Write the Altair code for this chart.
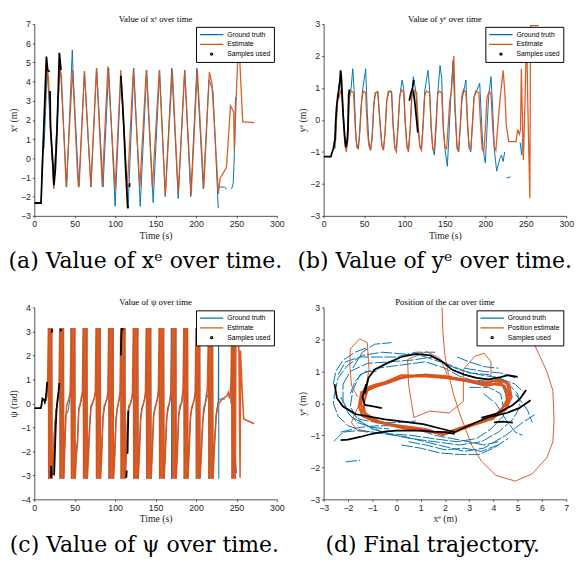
import altair as alt
import pandas as pd

BLUE = "#0072BD"
ORANGE = "#D95319"
BLACK = "#000000"
W, H = 249, 197

# ---------------- (a) x^e over time ----------------
EST_X = [(9, -1.0), (12, 1.5), (15.7, 4.7), (17.5, 4.2), (24, -1.6), (31.7, 4.7), (33.5, 4.3),
         (39.4, -1.5), (47.4, 4.6), (53.5, -0.9), (54.5, -1.5), (55.5, -1.4), (62, 4.55), (70, -1.45),
         (77, 4.7), (84, -1.45), (91, 4.8), (100, -1.6), (107, 4.6), (115, -1.6), (122.5, 4.6),
         (130.5, -1.5), (138.5, 4.6), (146, -1.55), (154.6, 4.6), (162, -1.95), (170.7, 4.6),
         (178, -1.85), (186, 4.6), (194, -1.9), (201.6, 4.6), (209.6, -1.55), (216.5, 4.5),
         (219.7, 3.9), (227.7, -1.85), (229.7, -1.05), (237.7, -0.47), (242.6, 2.74), (246.6, 2.4),
         (247.4, 0.4), (251.8, 5.5), (253.5, 5.6), (257.8, 1.9), (272, 1.86)]
GT_X = [
    [(12, 0.5), (16, 4.6), (24, -1.5), (32, 5.0), (40, -1.5), (47, 5.65), (48, 4.4), (55, -1.5),
     (62, 4.5), (70, -1.5), (77, 4.7), (85, -1.5), (92, 4.7), (100, -2.5), (107, 4.3), (116, -2.6),
     (123, 4.7), (131, -2.5), (139, 4.6), (147, -2.3), (155, 4.6), (162, -2.0), (170, 4.7),
     (178, -2.1), (186, 4.6), (193.5, -2.0), (201, 4.7), (209, -1.6), (216, 4.1), (221, 3.5),
     (227.5, -2.6)],
    [(228.5, -1.5), (235, -1.5), (238, -1.6)],
    [(244, -1.6), (246, -1.3), (247.5, 0.3), (248.5, 2.7), (249, 3.2)],
]
SMP_X = [
    [(0, -2.33), (8.3, -2.33), (15, 5.3), (16.5, 4.6), (19, 4.5)],
    [(19.5, 3.5), (20, 1.6), (23, -0.3), (24.3, -1.4), (26, -0.6), (28, 1.3), (31, 5.5), (33, 4.6)],
    [(107, 4.3), (109, 3.0), (111, 1.4), (113, -0.6), (115.5, -2.6), (116.5, -2.5)],
    [(117.5, -1.5), (118, -1.3)],
]

# ---------------- (b) y^e over time ----------------
EST_Y = [(13, -0.9), (15, -0.6), (17, 0.75), (19, 0.7), (21, 0.9), (23, 0.8), (26, -0.7), (28, -1.0),
         (30, -0.6), (32, 0.8), (34, 0.9), (37, 0.85), (39, -0.2), (41, -0.85), (43, -0.9), (45, -0.3),
         (47, 0.6), (49, 0.9), (52, 0.85), (54, -0.3), (56, -0.8), (58, -0.95), (60, -0.5), (62, 0.5),
         (64, 0.85), (67, 0.85), (69, 0.2), (72, -0.8), (74, -0.95), (76, -0.4), (78, 0.6), (80, 0.9),
         (84, 0.85), (86, -0.2), (88, -0.9), (90, -1.0), (92, -0.2), (94, 0.7), (96, 0.95), (99, 0.85),
         (101, -0.1), (103, -0.85), (105, -1.0), (107, -0.3), (109, 0.7), (111, 0.95), (115, 0.85),
         (117, -0.2), (119, -0.85), (121, -0.95), (123, -0.2), (125, 0.75), (127, 0.9), (131, 0.85),
         (133, -0.2), (135, -0.9), (137, -0.95), (139, -0.1), (141, 0.8), (143, 0.9), (146, 0.85),
         (148, -0.3), (150, -0.85), (152, -0.9), (154, -0.2), (156, 0.6), (158, 0.9), (161, 2.0),
         (162.5, 0.5), (165, -0.85), (167, -0.95), (169, -0.2), (171, 0.75), (173, 0.95), (176, 0.85),
         (178, -0.1), (180, -0.85), (182, -0.9), (184, -0.2), (186, 0.7), (188, 0.9), (192, 0.85),
         (194, -0.1), (196, -0.9), (198, -1.0), (200, -0.3), (202, 0.7), (205, 0.9), (207, 0.8),
         (209, -0.2), (211, -0.85), (213, -0.95), (215, -0.3), (218, 0.6), (222, 1.55), (224, 0.9),
         (226, -0.2), (229, -0.68), (238, -0.68), (240, -0.3), (242, -0.45), (243.5, -0.3),
         (244.5, 1.6), (247, -1.25), (249, 0.5), (251, 2.9), (252.5, 0.5), (255, -2.45), (256, 2.95),
         (266, 2.95)]
GT_Y = [
    [(14, -0.9), (17, 0.5), (19, 1.1), (21, 1.2), (24, 0.3), (27, -0.9), (29, -0.8), (31, 0.5),
     (34, 1.0), (36, 1.6), (38, 0.8), (40, -0.6), (42, -0.9), (44, -0.6), (46, 0.3), (48, 0.9),
     (52, 1.6), (54, 0.2), (56, -0.7), (58, -0.95), (60, -0.6), (62, 0.4), (64, 0.85), (67, 0.9),
     (69, 0.1), (72, -0.8), (74, -0.9), (76, -0.4), (78, 0.6), (81, 0.9), (84, 0.9), (86, -0.2),
     (88, -0.8), (90, -0.9), (92, -0.2), (94, 0.7), (97, 1.25), (99, 1.0), (101, -0.1), (103, -0.8),
     (105, -0.9), (107, -0.3), (109, 0.8), (111, 1.35), (114, 0.9), (117, -0.3), (119, -0.8),
     (121, -0.9), (123, -0.1), (125, 0.9), (129, 1.55), (131, 1.0), (133, -0.3), (135, -0.9),
     (137, -1.1), (139, -0.3), (141, 0.8), (144, 1.7), (146, 1.3), (148, -0.2), (150, -0.9),
     (153, -1.45), (155, -0.5), (157, 0.6), (160, 1.85), (162, 0.5), (165, -0.9), (167, -1.0),
     (169, -0.2), (171, 0.6), (174, 1.0), (176, 1.25), (178, -0.2), (180, -0.9), (182, -1.0),
     (184, -0.1), (186, 0.7), (189, 0.9), (193, 1.15), (195, 0.1), (197, -0.9), (200, -1.35),
     (202, -0.3), (204, 0.7), (207, 1.35), (209, 0.4), (211, -0.9), (214, -1.6), (216, -1.4),
     (218, -1.2), (220, -1.1), (222, -1.3), (224, -1.0)],
    [(226.5, -1.82), (231, -1.78)],
    [(243, -0.7), (244, -0.9), (245, -1.1), (246, -0.6)],
]
SMP_Y = [
    [(0, -1.15), (9, -1.15), (10, -1.05), (12, -0.9), (14, -0.6), (15, 0.0), (16, 0.4), (18, 0.8),
     (20, 1.2), (21, 1.55), (22, 1.3), (24, 0.2), (26, -0.5), (27.5, -0.85), (29, -0.7), (30, -0.3),
     (31, 0.8), (32, 0.95)],
    [(106, 0.6), (108, 0.85), (110, 1.0), (111.5, 1.25)],
    [(111, 0.9), (113, 0.5), (115, 0.0), (116.5, -0.4)],
]

# ---------------- (c) psi over time ----------------
EST_PSI = [
    (14.0, 0.1), (15.5, 0.4), (16.5, 0.9),
    (17.5, 3.14), (17.9, -3.14), (18.4, 3.14), (18.9, -3.14), (19.4, 3.14), (19.9, -3.14), (20.4, 3.14), (20.9, -3.14), (21.5, 3.14), (22, -3.14),
    (23.5, -2.4), (25, -1.2), (27, -0.3), (29, 0.1), (30.5, 0.4),
    (31.5, 3.14), (32, -3.14), (32.5, 3.14), (33, -3.14), (33.6, 3.14), (34.2, -3.14), (34.8, 3.14), (35.4, -3.14), (36, 3.14), (36.5, -3.14),
    (37.5, -2.0), (39, -0.6), (40, -0.1), (42, 0.1), (43.5, 0.3), (44.5, 0.6),
    (45.5, 3.14), (46, -3.14), (46.5, 3.14), (47, -3.14), (47.6, 3.14), (48.2, -3.14), (48.8, 3.14), (49.4, -3.14), (50, 3.14), (50.5, -3.14),
    (52, -2.2), (53.5, -1.6), (55, -0.3), (57, 0.0), (58.5, 0.3), (59.5, 0.5),
    (60.5, 3.14), (61, -3.14), (61.5, 3.14), (62, -3.14), (62.6, 3.14), (63.2, -3.14), (63.8, 3.14), (64.4, -3.14), (65, 3.14), (65.6, -3.14),
    (67, -2.2), (68.5, -1.0), (70, -0.2), (72, 0.0), (74, 0.2), (75.5, 0.5),
    (76.5, 3.14), (77, -3.14), (77.6, 3.14), (78.2, -3.14), (78.8, 3.14), (79.4, -3.14), (80, 3.14), (80.7, -3.14), (81.4, 3.14), (82, -3.14),
    (83.5, -2.0), (85, -0.6), (86.5, -0.1), (88, 0.0), (90, 0.2), (91, 0.5),
    (92, 3.14), (92.6, -3.14), (93.2, 3.14), (93.8, -3.14), (94.4, 3.14), (95, -3.14), (95.7, 3.14), (96.4, -3.14), (97.2, 3.14), (98, -3.14),
    (99.5, -2.2), (101, -0.8), (102.5, -0.2), (104, 0.0), (105, 0.2), (106, 0.5),
    (107, 3.14), (107.5, -3.14), (108.1, 3.14), (108.7, -3.14), (109.3, 3.14), (109.9, -3.14), (110.5, 3.14), (111.2, -3.14), (111.9, 3.14), (112.5, -3.14),
    (114, -2.0), (115.5, -0.5), (117, -0.1), (119, 0.0), (120.5, 0.2), (121.5, 0.5),
    (122.5, 3.14), (123.1, -3.14), (123.7, 3.14), (124.3, -3.14), (124.9, 3.14), (125.5, -3.14), (126.2, 3.14), (126.9, -3.14), (127.7, 3.14), (128.5, -3.14),
    (130, -2.1), (131.5, -0.7), (133, -0.2), (135, 0.0), (136.5, 0.2), (137.5, 0.5),
    (138.5, 3.14), (139.1, -3.14), (139.7, 3.14), (140.3, -3.14), (140.9, 3.14), (141.5, -3.14), (142.2, 3.14), (142.9, -3.14), (143.7, 3.14), (144.5, -3.14),
    (146, -2.0), (147.5, -0.6), (149, -0.2), (151, 0.0), (152.5, 0.3), (153.5, 0.6),
    (154.5, 3.14), (155.1, -3.14), (155.7, 3.14), (156.3, -3.14), (156.9, 3.14), (157.5, -3.14), (158.2, 3.14), (158.9, -3.14), (159.7, 3.14), (160.5, -3.14),
    (162, -2.2), (163.5, -0.8), (165, -0.2), (167, 0.0), (168, 0.2), (169, 0.5),
    (170.5, 3.14), (171, -3.14), (171.5, 3.14), (172, -3.14), (172.6, 3.14), (173.2, -3.14), (173.8, 3.14), (174.4, -3.14), (175, 3.14), (175.5, -3.14),
    (177, -2.0), (178.5, -0.6), (180, -0.1), (182, 0.0), (183, 0.3), (184, 0.6),
    (185, 3.14), (185.5, -3.14), (186, 3.14), (186.5, -3.14), (187.1, 3.14), (187.7, -3.14), (188.3, 3.14), (188.9, -3.14), (189.5, 3.14), (190, -3.14),
    (191.5, -2.0), (193, -0.7), (194.5, -0.2), (196.5, 0.0), (198, 0.2), (199, 0.5),
    (200, 3.14), (200.5, -3.14), (201, 3.14), (201.5, -3.14), (202.1, 3.14), (202.7, -3.14), (203.3, 3.14), (203.9, -3.14), (204.5, 3.14), (205, -3.14),
    (206.5, -2.2), (208, -1.0), (209.5, -0.2), (211.5, 0.0), (213, 0.4), (214, 0.6),
    (215.5, 3.14), (216, -3.14), (216.6, 3.14), (217.2, -3.14), (217.8, 3.14), (218.4, -3.14), (219, 3.14), (219.7, -3.14), (220.4, 3.14), (221, -3.14),
    (222.5, -2.0), (225, -0.5), (228, 0.0), (233, 0.2), (238, 0.3), (240, 0.45), (241.5, 0.2), (242.5, 0.5), (243.5, 1.0),
    (244, 3.14), (244.5, -3.14), (245.2, 3.14), (245.9, -3.14), (246.6, 3.14), (247.3, -3.14), (248, 3.14), (248.7, -3.14), (249.4, 3.14),
    (250.5, 3.0), (251.5, 2.5), (253, 2.3), (254.5, -3.1), (255, 2.2), (257, 0.6), (259, -0.65), (272, -0.85),
]
GT_PSI = [
    [(15, 0.1), (17, 0.8), (17.8, 3.14), (18, -3.14), (21.5, 3.14), (21.7, -3.14), (23.5, -2.2), (25, -1.0),
     (27, -0.3), (29, 0.1), (31, 0.5), (31.8, 3.14), (32, -3.14), (36, 3.14), (36.2, -3.14), (37.5, -1.9),
     (39, -0.5), (42, -0.3), (44, 0.2), (45, 0.5), (45.8, 3.14), (46, -3.14), (50, 3.14), (50.2, -3.14),
     (52, -1.9), (53.5, -1.5), (55, -0.2), (58, 0.1), (60, 0.4), (60.8, 3.14), (61, -3.14), (65, 3.14),
     (65.2, -3.14), (67, -1.8), (68.5, -0.8), (70, -0.1), (73, 0.1), (76, 0.4), (76.8, 3.14), (77, -3.14),
     (81.5, 3.14), (81.7, -3.14), (83.5, -1.8), (85, -0.5), (88, 0.0), (91.5, 0.4), (92.3, 3.14),
     (92.5, -3.14), (97.5, 3.14), (97.7, -3.14), (99.5, -2.0), (101, -0.6), (104, 0.0), (106.5, 0.4),
     (107.3, 3.14), (107.5, -3.14), (112, 3.14), (112.2, -3.14), (114, -1.8), (115.5, -0.4), (119, 0.0),
     (122, 0.4), (122.8, 3.14), (123, -3.14), (128, 3.14), (128.2, -3.14), (130, -1.9), (131.5, -0.5),
     (135, 0.0), (138, 0.4), (138.8, 3.14), (139, -3.14), (144, 3.14), (144.2, -3.14), (146, -1.8),
     (147.5, -0.45), (151, 0.0), (154, 0.4), (154.8, 3.14), (155, -3.14), (160, 3.14), (160.2, -3.14),
     (162, -2.0), (163.5, -0.6), (167, 0.0), (169, 0.4), (169.5, 3.14), (169.7, -3.14), (175, 3.14),
     (175.2, -3.14), (177, -1.8), (178.5, -0.45), (182, 0.0), (184.5, 0.4), (185.3, 3.14), (185.5, -3.14),
     (189.5, 3.14), (189.7, -3.14), (191.5, -1.8), (193, -0.5), (196.5, 0.0), (199.5, 0.4), (200.3, 3.14),
     (200.5, -3.14), (204.5, 3.14), (204.7, -3.14), (206.5, -2.0), (208, -0.8), (211.5, 0.0), (215, 0.4),
     (215.8, 3.14), (216, -3.14), (220.5, 3.14), (220.7, -3.14), (222.5, -1.8), (225, -0.4), (227.5, 0.1),
     (228, 3.14), (228.2, -3.14)],
    [(228.6, 0.18), (236, 0.18)],
    [(243, 0.0), (244.5, 3.14), (244.8, -3.14), (247, 3.14), (247.3, -2.9), (248.5, -2.2), (250, -2.9)],
]
SMP_PSI = [
    [(0, -0.2), (8, -0.2), (9, -0.05), (10, 0.2), (12, 0.15), (13, 0.05), (14, 0.2), (15, 0.5), (16, 0.9)],
    [(20.5, -3.1), (21, -2.6), (21.5, -3.0)],
    [(21.5, 2.95), (22.3, 3.1)],
    [(24.5, -3.0), (25.5, -2.0), (26.5, -1.0), (27.5, -0.3), (28.5, 0.1), (30, 0.5), (31, 0.85)],
    [(32.5, 3.0), (33.2, 3.1)],
    [(107, 2.0), (107.6, 2.8), (108.2, 3.1), (110.5, 3.1)],
    [(113.8, -3.1), (114.3, -2.8)],
    [(115.3, -2.1), (115.8, -1.2), (116.4, -0.3)],
]

# ---------------- (d) trajectory ----------------
GT_XY = [
    [(-2.55, 0.3), (-2.4, 0.8), (-2.0, 1.2), (-1.4, 1.5), (-0.6, 1.6), (0.2, 1.55), (1.0, 1.5), (1.8, 1.3),
     (2.6, 1.05), (3.4, 0.9), (4.2, 0.8), (4.9, 0.6), (5.3, 0.3)],
    [(5.7, -0.35), (5.2, -0.6), (4.5, -1.0), (3.6, -1.4), (2.8, -1.5), (2.0, -1.35), (1.2, -1.2), (0.4, -1.05),
     (-0.5, -0.95), (-1.4, -0.85), (-2.0, -0.7), (-2.4, -0.4), (-2.6, 0.0), (-2.55, 0.3)],
    [(-1.8, 1.1), (-1.4, 1.6), (-0.9, 1.85), (-0.2, 1.9)],
    [(-2.2, 0.6), (-1.9, 1.0), (-1.2, 1.25), (-0.3, 1.3), (0.6, 1.35), (1.5, 1.45), (2.2, 1.2), (3.0, 0.95),
     (3.8, 0.9), (4.5, 0.7), (5.0, 0.3), (5.1, -0.1)],
    [(5.1, -0.1), (4.8, -0.5), (4.2, -0.9), (3.5, -1.2), (2.6, -1.3), (1.6, -1.2), (0.6, -1.1), (-0.4, -0.95),
     (-1.2, -0.7), (-1.9, -0.4), (-2.2, 0.0), (-2.2, 0.6)],
    [(-1.5, 0.9), (-0.8, 1.1), (0.2, 1.2), (1.2, 1.3), (2.0, 1.1), (2.6, 0.85), (3.2, 0.7), (3.9, 0.75),
     (4.4, 0.5), (4.6, 0.1), (4.4, -0.4), (3.9, -0.8), (3.3, -1.1), (2.5, -1.2), (1.5, -1.1), (0.6, -1.0),
     (-0.3, -0.95), (-1.0, -0.8), (-1.6, -0.5), (-1.9, -0.1), (-1.8, 0.4), (-1.5, 0.9)],
    [(-2.58, -1.19), (-2.2, -0.9), (-1.6, -0.85), (-1.0, -0.9)],
    [(-2.1, -1.83), (-1.5, -1.78)],
    [(3.0, 0.5), (3.8, 0.5), (4.3, 0.3), (4.4, -0.1), (4.0, -0.5), (3.3, -0.6), (2.5, -0.8)],
    [(0.2, -1.3), (1.0, -1.4), (1.8, -1.55), (2.6, -1.6), (3.4, -1.6), (4.0, -1.4), (4.6, -1.1)],
    [(-2.3, 0.2), (-2.0, -0.2), (-1.5, -0.5), (-0.8, -0.6), (0.0, -0.6), (0.8, -0.55)],
    [(-2.4, 0.9), (-2.1, 1.3), (-1.5, 1.45), (-0.8, 1.45), (0.0, 1.45), (0.8, 1.6), (1.6, 1.6)],
    [(2.8, 1.1), (3.6, 1.0), (4.3, 0.95), (4.9, 0.8)],
    [(-2.3, -0.9), (-1.5, -0.75), (-0.8, -0.7), (0.0, -0.7), (0.8, -0.8), (1.6, -1.0), (2.3, -1.1),
     (3.0, -1.2), (3.6, -1.3), (4.2, -1.2)],
    [(4.9, 0.3), (5.4, -0.2), (5.6, -0.6)],
    [(-2.6, 0.6), (-2.5, 1.0), (-2.2, 1.35), (-1.7, 1.6), (-1.2, 1.75)],
    [(-1.9, 0.3), (-1.7, 0.7), (-1.3, 1.0), (-0.8, 1.0)],
    [(-2.0, -0.3), (-1.6, -0.6), (-1.0, -0.75), (-0.3, -0.8)],
    [(0.5, -1.2), (1.2, -1.3), (2.0, -1.45), (2.8, -1.4), (3.5, -1.5), (4.2, -1.3)],
    [(3.6, 0.3), (4.1, 0.0), (4.5, -0.5), (4.9, -0.9), (5.2, -1.0)],
    [(2.5, 1.45), (3.0, 1.3), (3.6, 1.15), (4.2, 1.1)],
]
EST_LAPS = [
    [(-1.46, -0.04), (-1.32, 0.46), (-0.9, 0.58), (-0.47, 0.66), (0.19, 0.88), (1.12, 0.86), (2.17, 0.81),
     (2.7, 0.76), (3.49, 0.66), (4.15, 0.71), (4.55, 0.66), (4.68, 0.26), (4.55, -0.14), (4.02, -0.44),
     (3.23, -0.64), (2.44, -0.84), (1.91, -0.99), (1.25, -0.84), (0.19, -0.74), (-0.86, -0.54),
     (-1.39, -0.34), (-1.46, -0.04)],
    [(-1.55, -0.1), (-1.45, 0.35), (-1.0, 0.5), (-0.4, 0.62), (0.3, 0.82), (1.2, 0.9), (2.1, 0.85), (2.8, 0.72),
     (3.6, 0.6), (4.2, 0.75), (4.65, 0.6), (4.75, 0.2), (4.5, -0.2), (3.9, -0.5), (3.1, -0.7), (2.4, -0.9),
     (1.85, -0.95), (1.2, -0.8), (0.2, -0.7), (-0.8, -0.6), (-1.4, -0.4), (-1.55, -0.1)],
    [(-1.35, 0.0), (-1.2, 0.4), (-0.8, 0.55), (-0.3, 0.7), (0.4, 0.85), (1.3, 0.84), (2.2, 0.78), (2.9, 0.7),
     (3.7, 0.55), (4.3, 0.65), (4.5, 0.45), (4.55, 0.1), (4.3, -0.25), (3.8, -0.45), (3.0, -0.68),
     (2.3, -0.85), (1.9, -0.92), (1.3, -0.88), (0.3, -0.78), (-0.7, -0.58), (-1.3, -0.3), (-1.35, 0.0)],
    [(-1.5, 0.05), (-1.4, 0.3), (-1.1, 0.45), (-0.6, 0.6), (0.1, 0.78), (0.9, 0.88), (1.8, 0.84), (2.6, 0.74),
     (3.4, 0.62), (4.0, 0.6), (4.45, 0.55), (4.62, 0.3), (4.5, -0.05), (4.1, -0.35), (3.4, -0.58),
     (2.6, -0.78), (2.0, -0.96), (1.5, -0.9), (0.6, -0.8), (-0.4, -0.66), (-1.2, -0.45), (-1.5, 0.05)],
]
EST_THIN = [
    [(1.88, 3.0), (1.92, 2.2), (2.0, 1.5), (2.15, 0.9), (2.35, 0.3), (2.6, -0.3), (2.85, -0.8), (3.1, -1.3),
     (3.5, -1.8), (4.1, -2.25), (4.9, -2.43), (5.6, -2.2), (6.2, -1.7), (6.45, -1.2), (6.5, -0.5),
     (6.45, 0.4), (6.2, 1.0), (5.9, 1.5), (5.65, 1.9)],
    [(-1.9, 1.7), (-1.52, 2.02), (-1.2, 1.9), (-1.13, 1.06), (-1.3, 0.3), (-1.7, -0.3), (-1.85, -0.6),
     (-1.6, -0.85), (-1.2, -0.9)],
    [(-1.9, 1.7), (-1.92, 1.2), (-1.85, 0.56), (-1.6, 0.2)],
    [(0.46, 1.37), (1.25, 1.62), (1.8, 1.4), (2.1, 0.9)],
    [(0.46, 1.37), (0.5, 0.6), (0.72, -0.44), (1.38, -0.24), (2.17, -0.3), (2.76, 0.06), (2.76, 1.06),
     (3.23, 1.47), (3.62, 1.57), (3.9, 1.3), (3.9, 0.9)],
]
SMP_XY = [
    [(-2.3, -1.15), (-2.0, -1.13), (-1.5, -1.05), (-1.0, -0.95), (-0.5, -0.88), (0.0, -0.85), (0.5, -0.85),
     (1.0, -0.85), (1.5, -0.88), (2.0, -0.9), (2.4, -0.95)],
    [(-2.55, 0.6), (-2.45, 0.16), (-2.2, -0.1), (-1.66, -0.34), (-0.47, -0.5), (1.1, -0.65), (1.9, -0.8),
     (2.4, -0.9), (2.97, -0.7), (3.76, -0.44), (4.55, -0.3), (5.06, -0.15), (5.53, 0.1)],
    [(-1.3, 0.3), (-1.15, 0.8), (-0.9, 1.05), (-0.4, 1.25), (0.2, 1.45), (0.8, 1.55), (1.4, 1.5), (1.9, 1.3),
     (2.3, 1.05), (2.8, 0.9), (3.3, 0.8), (3.8, 0.75), (4.3, 0.82), (4.6, 0.88), (5.0, 0.83)],
    [(-1.25, 0.6), (-1.4, 0.2), (-1.3, -0.05), (-0.9, -0.1), (-0.6, -0.15)],
    [(3.5, -0.45), (4.2, -0.3), (4.8, -0.05), (5.1, 0.15), (5.35, 0.42)],
    [(4.02, -0.59), (4.4, -0.57), (4.8, -0.6)],
]


def frame(segments, series):
    rows = []
    for s, seg in enumerate(segments):
        for i, (x, y) in enumerate(seg):
            rows.append({"x": x, "y": y, "seg": s, "i": i, "series": series})
    return pd.DataFrame(rows)


DOT = "M-0.09,0A0.09,0.09,0,1,1,0.09,0A0.09,0.09,0,1,1,-0.09,0Z"
LINE = "M-1,0L1,0"


def panel(title, caption, cap_x, xdom, xvals, xtitle, ydom, yvals, ytitle,
          gt, est_layers, smp, labels, gt_dash=None):
    cscale = alt.Scale(domain=labels, range=[BLUE, ORANGE, BLACK])
    sscale = alt.Scale(domain=labels, range=[LINE, LINE, DOT])
    leg = alt.Legend(title=None, orient="top-right", offset=3)
    X = alt.X("x:Q", scale=alt.Scale(domain=xdom, nice=False, zero=False),
              axis=alt.Axis(values=xvals, title=xtitle))
    Y = alt.Y("y:Q", scale=alt.Scale(domain=ydom, nice=False, zero=False),
              axis=alt.Axis(values=yvals, title=ytitle))
    C = alt.Color("series:N", scale=cscale, legend=leg)

    def line(df, width, opacity=1.0, dash=None):
        kw = dict(strokeWidth=width, clip=True, opacity=opacity)
        if dash:
            kw["strokeDash"] = dash
        return alt.Chart(df).mark_line(**kw).encode(
            x=X, y=Y, color=C, detail="seg:N", order="i:Q")

    layers = [line(frame(gt, labels[0]), 1.0, 1.0, gt_dash)]
    for segs, width in est_layers:
        layers.append(line(frame(segs, labels[1]), width, 0.95))
    layers.append(line(frame(smp, labels[2]), 1.8))
    key = alt.Chart(pd.DataFrame({"series": labels, "x": [None] * 3, "y": [None] * 3})).mark_point(
        filled=False, opacity=1, strokeWidth=1.3).encode(
        x=X, y=Y, color=C, shape=alt.Shape("series:N", scale=sscale, legend=leg))
    cap = alt.Chart(pd.DataFrame({"c": [caption]})).mark_text(
        font="DejaVu Serif", fontSize=22.5, align="center", baseline="middle", color="black").encode(
        x=alt.value(cap_x), y=alt.value(H + 47), text="c:N")
    return alt.layer(*layers, key, cap).properties(
        width=W, height=H,
        title=alt.TitleParams(title, font="Liberation Serif", fontSize=9, fontWeight="normal",
                              color="black", offset=-4))


LAB = ["Ground truth", "Estimate", "Samples used"]
LAB_D = ["Ground truth", "Position estimate", "Samples used"]
TVALS = [0, 50, 100, 150, 200, 250, 300]

pa = panel("Value of xᵉ over time", "(a) Value of xᵉ over time.", 114, [0, 300], TVALS, "Time (s)",
           [-3, 7], list(range(-3, 8)), "xᵉ (m)", GT_X, [([EST_X], 1.3)], SMP_X, LAB)
pb = panel("Value of yᵉ over time", "(b) Value of yᵉ over time.", 114, [0, 300], TVALS, "Time (s)",
           [-3, 3], list(range(-3, 4)), "yᵉ (m)", GT_Y, [([EST_Y], 1.3)], SMP_Y, LAB)
pc = panel("Value of ψ over time", "(c) Value of ψ over time.", 113, [0, 300], TVALS, "Time (s)",
           [-4, 4], list(range(-4, 5)), "ψ (rad)", GT_PSI, [([EST_PSI], 1.6)], SMP_PSI, LAB)
pd_ = panel("Position of the car over time", "(d) Final trajectory.", 112, [-3, 7], list(range(-3, 8)),
            "xᵉ (m)", [-3, 3], list(range(-3, 4)), "yᵉ (m)", GT_XY,
            [(EST_LAPS, 2.2), (EST_THIN, 1.0)], SMP_XY, LAB_D, gt_dash=[12, 2])

chart = alt.concat(pa, pb, pc, pd_, columns=2, spacing={"row": 94, "column": 48}, bounds="flush").resolve_scale(
    color="independent", shape="independent", x="independent", y="independent"
).properties(padding=0).configure_view(stroke=None).configure_axis(
    domainColor="#262626", domainWidth=0.8, tickColor="#262626", tickSize=2, tickWidth=0.8,
    labelFont="Liberation Sans", labelFontSize=9, labelColor="#262626", labelPadding=2, labelFlush=False,
    titleFont="Liberation Serif", titleFontSize=10, titleFontWeight="normal", titleColor="#262626",
    titlePadding=2, grid=False
).configure_legend(
    labelFont="Liberation Sans", labelFontSize=7, labelColor="black", strokeColor="black",
    fillColor="white", padding=3, symbolSize=576, symbolStrokeWidth=1.3, rowPadding=0,
    clipHeight=10, labelOffset=3, cornerRadius=0
)

chart.save("out.html", embed_options={"renderer": "svg", "actions": False})
